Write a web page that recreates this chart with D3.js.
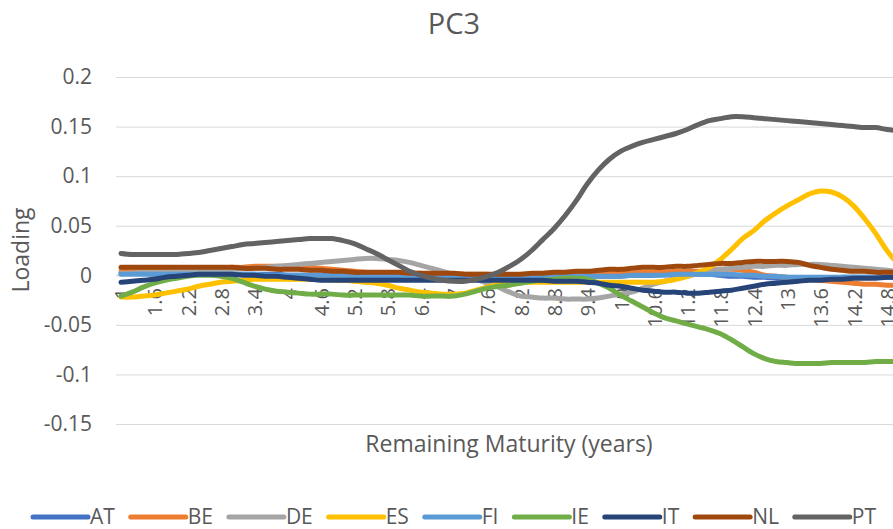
<!DOCTYPE html>
<html>
<head>
<meta charset="utf-8">
<script src="https://cdn.jsdelivr.net/npm/d3@7"></script>
<style>
  html, body { margin: 0; padding: 0; background: #fff; }
  svg { display: block; font-family: "Open Sans", "Noto Sans", sans-serif; }
</style>
</head>
<body>
<svg id="chart" width="893" height="529"></svg>
<script>
// ---- data ----
const categories = [1,1.2,1.4,1.6,1.8,2,2.2,2.4,2.6,2.8,3,3.2,3.4,3.6,3.8,4,4.2,4.4,4.6,4.8,5,5.2,5.4,5.6,5.8,6,6.2,6.4,6.6,6.8,7,7.2,7.4,7.6,7.8,8,8.2,8.4,8.6,8.8,9,9.2,9.4,9.6,9.8,10,10.2,10.4,10.6,10.8,11,11.2,11.4,11.6,11.8,12,12.2,12.4,12.6,12.8,13,13.2,13.4,13.6,13.8,14,14.2,14.4,14.6,14.8,15,15.2];
const xTickLabels = ["1","1.6","2.2","2.8","3.4","4","4.6","5.2","5.8","6.4","7","7.6","8.2","8.8","9.4","10","10.6","11.2","11.8","12.4","13","13.6","14.2","14.8"];
const yTickValues = [0.2,0.15,0.1,0.05,0,-0.05,-0.1,-0.15];
const yTickLabels = ["0.2","0.15","0.1","0.05","0","-0.05","-0.1","-0.15"];
const seriesNames = ["AT","BE","DE","ES","FI","IE","IT","NL","PT"];

const AT = [0.002,0.002,0.002,0.001,0.001,0.001,0.001,0.001,0.001,0.001,0.001,0.001,0.001,0.001,0.001,0.000,0.000,0.000,0.000,0.000,0.000,-0.001,-0.001,-0.001,-0.001,-0.001,-0.001,-0.001,-0.001,-0.001,-0.001,-0.001,-0.001,-0.001,-0.001,-0.001,-0.001,-0.001,-0.001,-0.001,-0.001,-0.001,-0.001,-0.001,-0.001,-0.001,0.000,0.000,0.000,0.001,0.001,0.001,0.001,0.001,0.000,-0.001,-0.001,-0.002,-0.002,-0.003,-0.003,-0.003,-0.003,-0.003,-0.003,-0.002,-0.002,-0.002,-0.002,-0.002,-0.002,-0.002];
const BE = [0.004,0.004,0.005,0.005,0.005,0.006,0.006,0.006,0.007,0.007,0.008,0.008,0.009,0.009,0.009,0.009,0.008,0.008,0.007,0.006,0.005,0.004,0.003,0.002,0.002,0.002,0.002,0.002,0.001,0.001,0.001,0.001,0.001,0.001,0.000,0.000,0.000,-0.001,-0.001,0.000,0.000,0.000,0.001,0.001,0.002,0.002,0.002,0.003,0.003,0.003,0.004,0.004,0.004,0.005,0.006,0.006,0.005,0.003,0.000,-0.001,-0.002,-0.003,-0.004,-0.005,-0.006,-0.007,-0.008,-0.009,-0.009,-0.010,-0.010,-0.010];
const DE = [0.002,0.002,0.003,0.003,0.003,0.004,0.004,0.005,0.005,0.005,0.006,0.007,0.007,0.008,0.009,0.010,0.011,0.012,0.013,0.014,0.015,0.016,0.017,0.017,0.016,0.015,0.013,0.010,0.007,0.004,0.001,-0.002,-0.004,-0.008,-0.012,-0.017,-0.021,-0.022,-0.023,-0.023,-0.024,-0.024,-0.024,-0.023,-0.021,-0.019,-0.017,-0.013,-0.009,-0.006,-0.003,-0.001,0.002,0.004,0.006,0.007,0.008,0.009,0.009,0.010,0.010,0.011,0.011,0.011,0.010,0.009,0.008,0.007,0.006,0.005,0.004,0.004];
const ES = [-0.022,-0.022,-0.021,-0.020,-0.018,-0.016,-0.014,-0.011,-0.009,-0.007,-0.006,-0.005,-0.004,-0.004,-0.004,-0.004,-0.004,-0.004,-0.004,-0.005,-0.005,-0.006,-0.007,-0.008,-0.010,-0.013,-0.015,-0.017,-0.018,-0.019,-0.019,-0.018,-0.015,-0.012,-0.009,-0.008,-0.007,-0.007,-0.007,-0.007,-0.007,-0.007,-0.007,-0.007,-0.007,-0.007,-0.007,-0.007,-0.007,-0.006,-0.004,-0.001,0.003,0.008,0.016,0.026,0.037,0.045,0.055,0.063,0.070,0.076,0.082,0.085,0.084,0.079,0.070,0.057,0.042,0.025,0.012,0.005];
const FI = [0.001,0.001,0.001,0.001,0.001,0.001,0.001,0.001,0.001,0.001,0.001,0.001,0.001,0.000,0.000,0.000,0.000,0.000,0.000,0.000,0.000,0.000,0.000,0.000,0.000,0.000,-0.001,-0.001,-0.001,-0.001,-0.001,-0.001,-0.001,-0.001,-0.001,-0.001,-0.001,-0.001,-0.001,-0.001,-0.001,-0.001,-0.001,-0.001,-0.001,-0.001,0.000,0.000,0.000,0.000,0.001,0.001,0.001,0.001,0.001,0.001,0.000,0.000,-0.001,-0.001,-0.002,-0.002,-0.002,-0.002,-0.002,-0.002,-0.002,-0.002,-0.002,-0.002,-0.002,-0.002];
const IE = [-0.021,-0.017,-0.012,-0.008,-0.005,-0.003,-0.001,0.000,0.000,-0.001,-0.003,-0.007,-0.011,-0.014,-0.016,-0.017,-0.018,-0.019,-0.019,-0.019,-0.020,-0.020,-0.020,-0.020,-0.020,-0.020,-0.020,-0.021,-0.021,-0.021,-0.021,-0.019,-0.016,-0.013,-0.011,-0.010,-0.008,-0.006,-0.005,-0.004,-0.003,-0.003,-0.004,-0.008,-0.013,-0.020,-0.026,-0.032,-0.038,-0.043,-0.046,-0.049,-0.052,-0.055,-0.059,-0.065,-0.072,-0.079,-0.084,-0.087,-0.088,-0.089,-0.089,-0.089,-0.088,-0.088,-0.088,-0.088,-0.087,-0.087,-0.087,-0.087];
const IT = [-0.007,-0.006,-0.005,-0.004,-0.002,-0.001,0.000,0.001,0.001,0.001,0.001,0.000,0.000,-0.001,-0.001,-0.002,-0.003,-0.004,-0.005,-0.005,-0.005,-0.005,-0.005,-0.005,-0.005,-0.005,-0.005,-0.005,-0.005,-0.005,-0.005,-0.005,-0.005,-0.005,-0.005,-0.005,-0.005,-0.005,-0.005,-0.006,-0.006,-0.006,-0.007,-0.008,-0.010,-0.011,-0.013,-0.015,-0.016,-0.017,-0.017,-0.018,-0.018,-0.017,-0.016,-0.015,-0.013,-0.011,-0.009,-0.008,-0.007,-0.006,-0.005,-0.005,-0.004,-0.004,-0.003,-0.003,-0.003,-0.002,-0.002,-0.002];
const NL = [0.008,0.008,0.008,0.008,0.008,0.008,0.008,0.008,0.008,0.008,0.008,0.007,0.007,0.007,0.006,0.006,0.006,0.005,0.005,0.004,0.004,0.003,0.003,0.003,0.003,0.003,0.002,0.002,0.002,0.002,0.002,0.001,0.001,0.001,0.001,0.001,0.001,0.002,0.002,0.003,0.003,0.004,0.004,0.005,0.006,0.006,0.007,0.008,0.008,0.008,0.009,0.009,0.010,0.011,0.012,0.012,0.013,0.014,0.014,0.014,0.014,0.013,0.010,0.008,0.006,0.005,0.004,0.004,0.003,0.003,0.003,0.003];
const PT = [0.022,0.021,0.021,0.021,0.021,0.021,0.022,0.023,0.025,0.027,0.029,0.031,0.032,0.033,0.034,0.035,0.036,0.037,0.037,0.037,0.035,0.032,0.027,0.022,0.016,0.010,0.004,0.000,-0.003,-0.005,-0.006,-0.006,-0.004,-0.001,0.003,0.009,0.016,0.025,0.036,0.047,0.060,0.075,0.092,0.106,0.117,0.125,0.130,0.134,0.137,0.140,0.143,0.147,0.152,0.156,0.158,0.160,0.160,0.159,0.158,0.157,0.156,0.155,0.154,0.153,0.152,0.151,0.150,0.149,0.149,0.147,0.146,0.145];

const seriesValues = [AT, BE, DE, ES, FI, IE, IT, NL, PT];
const seriesColors = ["#4472C4","#ED7D31","#A5A5A5","#FFC000","#5B9BD5","#70AD47","#264478","#9E480E","#636363"];

// ---- layout ----
const W = 893, H = 529;
const plotLeft = 116, plotRight = 960, plotTop = 77, plotBottom = 424;
const textColor = "#595959";
const gridColor = "#D9D9D9";

const svg = d3.select("#chart");
svg.append("rect").attr("width", W).attr("height", H).attr("fill", "#fff");

const step = 11.1;
const x = d3.scalePoint()
  .domain(categories)
  .range([121, 121 + step * (categories.length - 1)]);
const y = d3.scaleLinear().domain([-0.15, 0.2]).range([plotBottom, plotTop]);

// gridlines
const grid = svg.append("g").attr("transform", `translate(${plotLeft},0)`)
  .call(d3.axisLeft(y).tickValues(yTickValues).tickSize(-(plotRight - plotLeft)).tickFormat(""));
grid.select(".domain").remove();
grid.selectAll("line").attr("stroke", gridColor).attr("stroke-width", 1);

// y tick labels
const yAxis = svg.append("g").attr("transform", `translate(92,0)`)
  .call(d3.axisLeft(y).tickValues(yTickValues).tickSize(0).tickPadding(0)
    .tickFormat((d, i) => yTickLabels[i]));
yAxis.select(".domain").remove();
yAxis.selectAll("text").attr("fill", textColor).style("font-size", "21px")
  .style("font-family", "'Open Sans', sans-serif");

// category axis line at y=0
svg.append("line").attr("x1", plotLeft).attr("x2", plotRight)
  .attr("y1", y(0)).attr("y2", y(0)).attr("stroke", gridColor).attr("stroke-width", 1);

// category labels (every third category)
const labelCats = categories.filter((c, i) => i % 3 === 0);
const xLabels = svg.append("g");
xLabels.selectAll("text").data(labelCats).join("text")
  .attr("transform", (d) => `translate(${x(d) + 1},288) rotate(-90)`)
  .attr("text-anchor", "end")
  .attr("dy", "0.35em")
  .attr("fill", textColor)
  .style("font-size", "20px")
  .text((d, i) => xTickLabels[i]);

// lines
const line = d3.line()
  .x((d, i) => x(categories[i]))
  .y((d) => y(d))
  .curve(d3.curveCatmullRom.alpha(0.5));

const lines = svg.append("g");
seriesValues.forEach((vals, k) => {
  lines.append("path")
    .datum(vals)
    .attr("d", line)
    .attr("fill", "none")
    .attr("stroke", seriesColors[k])
    .attr("stroke-width", 5)
    .attr("stroke-linecap", "round")
    .attr("stroke-linejoin", "round");
});

// title
svg.append("text").attr("x", 454).attr("y", 34).attr("text-anchor", "middle")
  .attr("fill", textColor).style("font-size", "29px").text("PC3");

// axis titles
svg.append("text").attr("transform", "translate(29,250) rotate(-90)")
  .attr("text-anchor", "middle").attr("fill", textColor).style("font-size", "23px").text("Loading");
svg.append("text").attr("x", 509).attr("y", 452).attr("text-anchor", "middle")
  .attr("fill", textColor).style("font-size", "23px").text("Remaining Maturity (years)");

// legend
const legend = svg.append("g");
const ly = 517;
const items = seriesNames.map((name, k) => {
  const g = legend.append("g");
  g.append("line").attr("x1", 0).attr("x2", 55).attr("y1", ly).attr("y2", ly)
    .attr("stroke", seriesColors[k]).attr("stroke-width", 5).attr("stroke-linecap", "round");
  const t = g.append("text").attr("x", 57).attr("y", ly).attr("dy", "0.35em")
    .attr("fill", textColor).style("font-size", "21px").text(name);
  return { g, w: 57 + t.node().getComputedTextLength() };
});
const legendStart = 33, legendEnd = 876;
const totalW = d3.sum(items, (d) => d.w);
const gap = (legendEnd - legendStart - totalW) / (items.length - 1);
let lx = legendStart;
items.forEach((it) => { it.g.attr("transform", `translate(${lx},0)`); lx += it.w + gap; });
</script>
</body>
</html>
